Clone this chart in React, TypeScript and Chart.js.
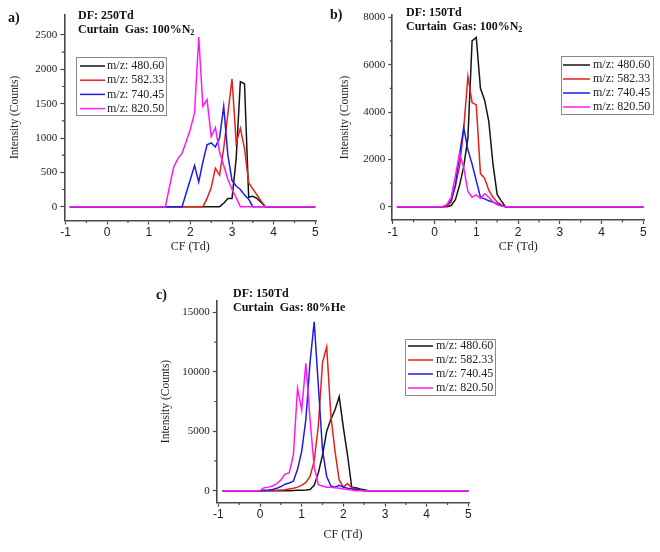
import React, { useEffect, useRef } from 'react';
import { Chart, registerables } from 'chart.js';
Chart.register(...registerables);

const LABELS = ['m/z: 480.60', 'm/z: 582.33', 'm/z: 740.45', 'm/z: 820.50'];
const COLORS = ['#151515', '#e3211c', '#1c1ce6', '#ff19ff'];

const xMajorTicks = [-1, 0, 1, 2, 3, 4, 5];
const xMinorTicks = [-0.5, 0.5, 1.5, 2.5, 3.5, 4.5];

const aYMajor = [0, 500, 1000, 1500, 2000, 2500];
const aYMinor = [250, 750, 1250, 1750, 2250];
const bYMajor = [0, 2000, 4000, 6000, 8000];
const bYMinor = [1000, 3000, 5000, 7000];
const cYMajor = [0, 5000, 10000, 15000];
const cYMinor = [2500, 7500, 12500];

// ---- a) DF 250Td, 100% N2
const aCF480 = [-0.9, 2.7, 2.8, 2.9, 3.0, 3.1, 3.2, 3.3, 3.4, 3.5, 3.6, 3.7, 3.8, 5.0];
const aI480 = [0, 0, 50, 120, 120, 700, 1820, 1790, 140, 150, 120, 60, 0, 0];
const aCF582 = [-0.9, 2.3, 2.4, 2.5, 2.6, 2.7, 2.8, 2.9, 3.0, 3.1, 3.2, 3.3, 3.4, 3.5, 3.6, 3.7, 3.8, 5.0];
const aI582 = [0, 0, 120, 280, 560, 460, 850, 1350, 1860, 930, 1140, 850, 350, 260, 170, 80, 0, 0];
const aCF740 = [-0.9, 1.8, 1.9, 2.0, 2.1, 2.2, 2.3, 2.4, 2.5, 2.6, 2.7, 2.8, 2.9, 3.0, 3.1, 3.2, 3.3, 3.4, 3.5, 5.0];
const aI740 = [0, 0, 200, 400, 600, 360, 650, 900, 930, 870, 1000, 1460, 750, 380, 300, 250, 170, 110, 0, 0];
const aCF820 = [-0.9, 1.4, 1.5, 1.6, 1.7, 1.8, 1.9, 2.0, 2.1, 2.2, 2.3, 2.4, 2.5, 2.6, 2.7, 2.8, 2.9, 3.0, 3.1, 3.2, 5.0];
const aI820 = [0, 0, 300, 580, 700, 780, 950, 1130, 1370, 2470, 1460, 1560, 1020, 1150, 800, 600, 400, 250, 130, 0, 0];

// ---- b) DF 150Td, 100% N2
const bCF480 = [-0.9, 0.3, 0.4, 0.5, 0.6, 0.7, 0.8, 0.9, 1.0, 1.1, 1.2, 1.3, 1.4, 1.5, 1.6, 1.7, 5.0];
const bI480 = [0, 0, 50, 300, 900, 1700, 2900, 7000, 7150, 5000, 4500, 3600, 1800, 520, 250, 0, 0];
const bCF582 = [-0.9, 0.2, 0.3, 0.4, 0.5, 0.6, 0.7, 0.8, 0.9, 1.0, 1.1, 1.2, 1.3, 1.4, 1.5, 1.6, 1.7, 5.0];
const bI582 = [0, 0, 30, 200, 900, 1700, 3300, 5500, 4400, 4300, 1400, 1200, 700, 400, 200, 80, 0, 0];
const bCF740 = [-0.9, 0.2, 0.3, 0.4, 0.5, 0.6, 0.7, 0.8, 0.9, 1.0, 1.1, 1.2, 1.3, 1.4, 1.5, 1.6, 1.7, 5.0];
const bI740 = [0, 0, 80, 300, 900, 2200, 3350, 2400, 1800, 1100, 400, 330, 250, 200, 120, 50, 0, 0];
const bCF820 = [-0.9, 0.2, 0.3, 0.4, 0.5, 0.6, 0.7, 0.8, 0.9, 1.0, 1.1, 1.2, 1.3, 1.4, 1.5, 1.6, 1.7, 5.0];
const bI820 = [0, 0, 100, 400, 1300, 2250, 1650, 650, 400, 500, 350, 550, 400, 200, 80, 30, 0, 0];

// ---- c) DF 150Td, 80% He
const cCF480 = [-0.9, 0.7, 0.8, 0.9, 1.0, 1.1, 1.2, 1.3, 1.4, 1.5, 1.6, 1.7, 1.8, 1.9, 2.0, 2.1, 2.2, 2.3, 2.4, 2.5, 2.6, 5.0];
const cI480 = [0, 0, 20, 30, 40, 60, 100, 450, 1500, 3000, 5000, 6000, 6800, 7900, 5300, 3000, 300, 250, 150, 80, 0, 0];
const cCF582 = [-0.9, 0.3, 0.4, 0.5, 0.6, 0.7, 0.8, 0.9, 1.0, 1.1, 1.2, 1.3, 1.4, 1.5, 1.6, 1.7, 1.8, 1.9, 2.0, 2.1, 2.2, 2.3, 2.4, 2.5, 5.0];
const cI582 = [0, 0, 30, 60, 80, 150, 200, 300, 450, 700, 1200, 2500, 5500, 10800, 12100, 6300, 3300, 900, 300, 600, 250, 150, 80, 0, 0];
const cCF740 = [-0.9, 0.0, 0.1, 0.2, 0.3, 0.4, 0.5, 0.6, 0.7, 0.8, 0.9, 1.0, 1.1, 1.2, 1.3, 1.4, 1.5, 1.6, 1.7, 1.8, 1.9, 2.0, 2.1, 2.2, 2.3, 2.4, 2.5, 5.0];
const cI740 = [0, 0, 30, 60, 100, 200, 350, 550, 650, 800, 1800, 3300, 6000, 10800, 14200, 8800, 3400, 1200, 400, 300, 450, 300, 200, 150, 100, 50, 0, 0];
const cCF820 = [-0.9, 0.0, 0.1, 0.2, 0.3, 0.4, 0.5, 0.6, 0.7, 0.8, 0.9, 1.0, 1.1, 1.2, 1.3, 1.4, 1.5, 1.6, 1.7, 1.8, 1.9, 2.0, 2.1, 2.2, 2.3, 5.0];
const cI820 = [0, 0, 250, 300, 400, 600, 900, 1400, 1500, 3000, 8600, 6800, 10700, 6000, 2000, 500, 400, 300, 300, 250, 200, 150, 100, 50, 0, 0];

const AXIS_COLOR = '#4a4a4a';
const SERIF = '"Liberation Serif", "Times New Roman", serif';
const SANS = '"Liberation Sans", Arial, sans-serif';

const extrasPlugin = {
  id: 'extras',
  afterDraw(chart: any, _args: any, opts: any) {
    const { ctx, chartArea } = chart;
    const xs = chart.scales.x;
    const ys = chart.scales.y;
    ctx.save();
    ctx.strokeStyle = AXIS_COLOR;
    ctx.lineWidth = 1.2;
    ctx.beginPath();
    for (const v of opts.xMinor) {
      const px = xs.getPixelForValue(v);
      ctx.moveTo(px, chartArea.bottom);
      ctx.lineTo(px, chartArea.bottom + 2.5);
    }
    for (const v of opts.yMinor) {
      const py = ys.getPixelForValue(v);
      ctx.moveTo(chartArea.left, py);
      ctx.lineTo(chartArea.left - 2.5, py);
    }
    ctx.stroke();
    // legend box
    const L = opts.legend;
    ctx.strokeStyle = '#8a8a8a';
    ctx.lineWidth = 1;
    ctx.strokeRect(L.x + 0.5, L.y + 0.5, L.w, L.h);
    ctx.font = '12px ' + SERIF;
    ctx.textBaseline = 'middle';
    ctx.fillStyle = '#222';
    chart.data.datasets.forEach((ds: any, i: number) => {
      const ry = L.y + L.first + i * L.step;
      ctx.strokeStyle = ds.borderColor;
      ctx.lineWidth = 1.5;
      ctx.beginPath();
      ctx.moveTo(L.x + L.l1, ry);
      ctx.lineTo(L.x + L.l2, ry);
      ctx.stroke();
      ctx.fillText(ds.label, L.x + L.tx, ry);
    });
    ctx.restore();
  },
};

type Cfg = {
  series: [number[], number[]][];
  xMin: number; xMax: number; yMin: number; yMax: number;
  yMajor: number[]; yMinor: number[];
  pad: { left: number; top: number; right: number; bottom: number };
  yW: number; xH: number;
  legend: any;
};

function Panel({ cfg }: { cfg: Cfg }) {
  const ref = useRef<HTMLCanvasElement>(null);
  useEffect(() => {
    const datasets = cfg.series.map(([xs, ys], i) => ({
      label: LABELS[i],
      data: xs.map((x, j) => ({ x, y: ys[j] })),
      borderColor: COLORS[i],
      backgroundColor: COLORS[i],
      borderWidth: 1.5,
      pointRadius: 0,
      tension: 0,
      fill: false,
      order: 3 - i,
    }));
    const chart = new Chart(ref.current as HTMLCanvasElement, {
      type: 'line',
      data: { datasets } as any,
      plugins: [extrasPlugin as any],
      options: {
        animation: false,
        responsive: false,
        maintainAspectRatio: false,
        layout: { padding: cfg.pad },
        plugins: {
          legend: { display: false },
          tooltip: { enabled: false },
          extras: { xMinor: xMinorTicks, yMinor: cfg.yMinor, legend: cfg.legend },
        } as any,
        scales: {
          x: {
            type: 'linear',
            min: cfg.xMin,
            max: cfg.xMax,
            afterFit: (s: any) => { s.height = cfg.xH; },
            afterBuildTicks: (s: any) => { s.ticks = xMajorTicks.map((v) => ({ value: v })); },
            ticks: {
              callback: (v: any) => String(v),
              font: { family: SANS, size: 12 },
              color: '#222',
              padding: 1,
              maxRotation: 0,
              autoSkip: false,
            },
            grid: { display: true, drawOnChartArea: false, drawTicks: true, tickLength: 4, tickColor: AXIS_COLOR, tickWidth: 1.2 },
            border: { display: true, color: AXIS_COLOR, width: 1.6 },
            title: { display: true, text: 'CF (Td)', font: { family: SERIF, size: 12 }, color: '#222', padding: 0 },
          },
          y: {
            type: 'linear',
            min: cfg.yMin,
            max: cfg.yMax,
            afterFit: (s: any) => { s.width = cfg.yW; },
            afterBuildTicks: (s: any) => { s.ticks = cfg.yMajor.map((v) => ({ value: v })); },
            ticks: {
              callback: (v: any) => String(v),
              font: { family: SERIF, size: 11 },
              color: '#222',
              padding: 3,
              autoSkip: false,
            },
            grid: { display: true, drawOnChartArea: false, drawTicks: true, tickLength: 4, tickColor: AXIS_COLOR, tickWidth: 1.2 },
            border: { display: true, color: AXIS_COLOR, width: 1.6 },
            title: { display: true, text: 'Intensity (Counts)', font: { family: SERIF, size: 11.5 }, color: '#222', padding: 0 },
          },
        },
      } as any,
    });
    return () => chart.destroy();
  }, [cfg]);
  return <canvas ref={ref} width={660} height={552} style={{ position: 'absolute', left: 0, top: 0, width: 660, height: 552 }} />;
}

const cfgA: Cfg = {
  series: [[aCF480, aI480], [aCF582, aI582], [aCF740, aI740], [aCF820, aI820]],
  xMin: -1.03, xMax: 5.02, yMin: -200, yMax: 2800,
  yMajor: aYMajor, yMinor: aYMinor,
  pad: { left: 8.4, top: 14.4, right: 343.9, bottom: 297.8 },
  yW: 55.9, xH: 33.8,
  legend: { x: 76, y: 57, w: 90, h: 58, first: 9, step: 14.2, l1: 4, l2: 29, tx: 31 },
};
const cfgB: Cfg = {
  series: [[bCF480, bI480], [bCF582, bI582], [bCF740, bI740], [bCF820, bI820]],
  xMin: -1.01, xMax: 5.02, yMin: -560, yMax: 8100,
  yMajor: bYMajor, yMinor: bYMinor,
  pad: { left: 338.4, top: 14.9, right: 15.8, bottom: 297.8 },
  yW: 53.9, xH: 34.2,
  legend: { x: 561, y: 56, w: 92, h: 58, first: 9, step: 14, l1: 2, l2: 29, tx: 32 },
};
const cfgC: Cfg = {
  series: [[cCF480, cI480], [cCF582, cI582], [cCF740, cI740], [cCF820, cI820]],
  xMin: -1.04, xMax: 5.02, yMin: -1000, yMax: 16000,
  yMajor: cYMajor, yMinor: cYMinor,
  pad: { left: 159.4, top: 300.4, right: 190.8, bottom: 9.8 },
  yW: 57.3, xH: 39.6,
  legend: { x: 405, y: 339, w: 90, h: 56, first: 7, step: 14, l1: 3, l2: 28, tx: 31 },
};

const lbl: React.CSSProperties = {
  position: 'absolute',
  fontFamily: SERIF,
  fontWeight: 'bold',
  fontSize: 12,
  lineHeight: '14px',
  color: '#111',
  whiteSpace: 'nowrap',
};

export default function App() {
  return (
    <div style={{ position: 'fixed', left: 0, top: 0, width: 660, height: 552, background: '#fff' }}>
      <Panel cfg={cfgA} />
      <Panel cfg={cfgB} />
      <Panel cfg={cfgC} />
      <div style={{ ...lbl, left: 8, top: 11, fontSize: 14 }}>a)</div>
      <div style={{ ...lbl, left: 78, top: 8 }}>DF: 250Td</div>
      <div style={{ ...lbl, left: 78, top: 22 }}>Curtain&nbsp; Gas: 100%N<sub style={{ fontSize: 8, verticalAlign: -2 }}>2</sub></div>
      <div style={{ ...lbl, left: 330, top: 8, fontSize: 14 }}>b)</div>
      <div style={{ ...lbl, left: 406, top: 5 }}>DF: 150Td</div>
      <div style={{ ...lbl, left: 406, top: 19 }}>Curtain&nbsp; Gas: 100%N<sub style={{ fontSize: 8, verticalAlign: -2 }}>2</sub></div>
      <div style={{ ...lbl, left: 156, top: 288, fontSize: 14 }}>c)</div>
      <div style={{ ...lbl, left: 233, top: 286 }}>DF: 150Td</div>
      <div style={{ ...lbl, left: 233, top: 300 }}>Curtain&nbsp; Gas: 80%He</div>
    </div>
  );
}
